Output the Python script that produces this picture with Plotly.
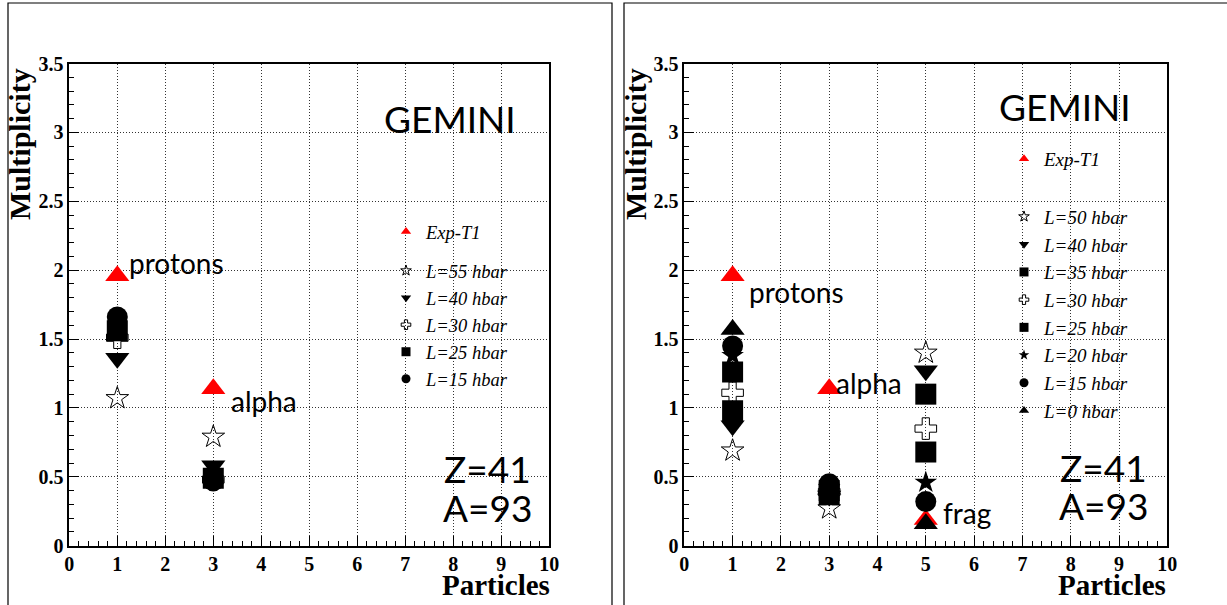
import plotly.graph_objects as go

# ---------------- data ----------------
left_particles = [1, 3]                       # protons, alpha
left_exp = [1.96, 1.14]
left_L55 = [1.07, 0.79]
left_L40 = [1.36, 0.58]
left_L30 = [1.51, 0.48]
left_L25 = [1.56, 0.49]
left_L15 = [1.66, 0.47]

right_particles = [1, 3, 5]                   # protons, alpha, frag
right_exp = [1.96, 1.14, 0.19]
right_L50 = [0.69, 0.27, 1.40]
right_L40 = [0.87, 0.36, 1.27]
right_L35 = [0.98, 0.37, 1.10]
right_L30 = [1.11, 0.39, 0.85]
right_L25 = [1.26, 0.40, 0.68]
right_L20 = [1.38, 0.42, 0.46]
right_L15 = [1.45, 0.45, 0.32]
right_L0 = [1.57, 0.41, 0.16]

x_ticks = list(range(0, 11))
y_ticks = [0, 0.5, 1, 1.5, 2, 2.5, 3, 3.5]
y_tick_labels = ["0", "0.5", "1", "1.5", "2", "2.5", "3", "3.5"]

W, H = 1227, 605

fig = go.Figure()

SIZES = {"triangle-up": 21, "triangle-down": 21, "square": 21, "circle": 21,
         "star-open": 17, "cross-open": 18, "star": 17}
LEG_SIZES = {"triangle-up": 9, "triangle-down": 9, "square": 9, "circle": 9,
             "star-open": 8, "cross-open": 8, "star": 8}

def add(xs, ys, name, symbol, color, xa, ya, legend, group, lw=0):
    # data markers
    fig.add_trace(go.Scatter(
        x=xs, y=ys, mode="markers", name=name, showlegend=False,
        marker=dict(symbol=symbol, size=SIZES[symbol], color=color,
                    line=dict(color=color, width=lw)),
        xaxis=xa, yaxis=ya,
    ))
    # legend entry (no data points, only a small legend symbol)
    fig.add_trace(go.Scatter(
        x=[None], y=[None], mode="markers", name=name, showlegend=True,
        marker=dict(symbol=symbol, size=LEG_SIZES[symbol], color=color,
                    line=dict(color=color, width=lw)),
        xaxis=xa, yaxis=ya, legend=legend, legendgroup=group,
    ))

RED = "#ff0000"
BLK = "#000000"

# left panel
add(left_particles, left_exp, "Exp-T1", "triangle-up", RED, "x", "y", "legend", "exp")
add(left_particles, left_L55, "L=55 hbar", "star-open", BLK, "x", "y", "legend", "L", lw=1)
add(left_particles, left_L40, "L=40 hbar", "triangle-down", BLK, "x", "y", "legend", "L")
add(left_particles, left_L30, "L=30 hbar", "cross-open", BLK, "x", "y", "legend", "L", lw=1)
add(left_particles, left_L25, "L=25 hbar", "square", BLK, "x", "y", "legend", "L")
add(left_particles, left_L15, "L=15 hbar", "circle", BLK, "x", "y", "legend", "L")

# right panel
add(right_particles, right_exp, "Exp-T1", "triangle-up", RED, "x2", "y2", "legend2", "exp2")
add(right_particles, right_L50, "L=50 hbar", "star-open", BLK, "x2", "y2", "legend2", "L2", lw=1)
add(right_particles, right_L40, "L=40 hbar", "triangle-down", BLK, "x2", "y2", "legend2", "L2")
add(right_particles, right_L35, "L=35 hbar", "square", BLK, "x2", "y2", "legend2", "L2")
add(right_particles, right_L30, "L=30 hbar", "cross-open", BLK, "x2", "y2", "legend2", "L2", lw=1)
add(right_particles, right_L25, "L=25 hbar", "square", BLK, "x2", "y2", "legend2", "L2")
add(right_particles, right_L20, "L=20 hbar", "star", BLK, "x2", "y2", "legend2", "L2")
add(right_particles, right_L15, "L=15 hbar", "circle", BLK, "x2", "y2", "legend2", "L2")
add(right_particles, right_L0, "L=0 hbar", "triangle-up", BLK, "x2", "y2", "legend2", "L2")

tickfont = dict(family="Liberation Serif", size=20, color="black", weight="bold")
GRID = dict(showgrid=True, gridcolor="#333333", griddash="1px,2px", gridwidth=1)

def xaxis(domain, anchor):
    return dict(domain=domain, anchor=anchor, range=[0, 10], tickvals=x_ticks,
                showline=True, linecolor="black", linewidth=1.5, mirror=True,
                ticks="inside", ticklen=10, tickcolor="black",
                minor=dict(dtick=0.2, ticks="inside", ticklen=5, tickcolor="black", showgrid=False),
                zeroline=False, tickfont=tickfont, fixedrange=True, automargin=False, **GRID)

def yaxis(anchor):
    ydom = [(H - 545.7) / H, (H - 63.5) / H]
    return dict(domain=ydom, anchor=anchor, range=[0, 3.5], tickvals=y_ticks,
                ticktext=y_tick_labels,
                showline=True, linecolor="black", linewidth=1.5, mirror=True,
                ticks="inside", ticklen=10, tickcolor="black",
                minor=dict(dtick=0.1, ticks="inside", ticklen=5, tickcolor="black", showgrid=False),
                zeroline=False, tickfont=tickfont, fixedrange=True, automargin=False, **GRID)

fig.update_layout(
    width=W, height=H,
    margin=dict(l=0, r=0, t=0, b=0, pad=0, autoexpand=False),
    paper_bgcolor="white", plot_bgcolor="white",
    xaxis=xaxis([69.3 / W, 549.3 / W], "y"),
    yaxis=yaxis("x"),
    xaxis2=xaxis([684.3 / W, 1167.3 / W], "y2"),
    yaxis2=yaxis("x2"),
    legend=dict(x=386 / W, y=(H - 213) / H, xanchor="left", yanchor="top",
                bgcolor="rgba(0,0,0,0)", borderwidth=0,
                font=dict(family="Liberation Serif", size=18.5, color="black", style="italic"),
                itemsizing="trace", tracegroupgap=12, traceorder="grouped"),
    legend2=dict(x=1004 / W, y=(H - 140) / H, xanchor="left", yanchor="top",
                 bgcolor="rgba(0,0,0,0)", borderwidth=0,
                 font=dict(family="Liberation Serif", size=19, color="black", style="italic"),
                 itemsizing="trace", tracegroupgap=30, traceorder="grouped"),
    showlegend=True,
)

# panel frames
frame = dict(type="rect", xref="paper", yref="paper", line=dict(color="black", width=1.2),
             fillcolor="rgba(0,0,0,0)", layer="below")
fig.add_shape(x0=8 / W, x1=612 / W, y0=-0.2, y1=(H - 3) / H, **frame)
fig.add_shape(x0=624 / W, x1=1.2, y0=-0.2, y1=(H - 3) / H, **frame)

label_font = dict(family="Lato", size=28, color="black")
big_font = dict(family="Lato", size=37, color="black")
title_font_y = dict(family="Liberation Serif", size=30, color="black", weight="bold")
title_font_x = dict(family="Liberation Serif", size=29, color="black", weight="bold")

def ann(text, x, y, xref, yref, font, xanchor="left", yanchor="middle", angle=0):
    fig.add_annotation(text=text, x=x, y=y, xref=xref, yref=yref, showarrow=False,
                       font=font, xanchor=xanchor, yanchor=yanchor, textangle=angle)

# left panel texts
ann("protons", 1.2, 2.05, "x", "y", label_font)
ann("alpha", 3.32, 1.05, "x", "y", label_font)
ann("GEMINI", 7.93, 3.10, "x", "y", big_font, xanchor="center")
ann("Z=41", 8.72, 0.56, "x", "y", big_font, xanchor="center")
ann("A=93", 8.72, 0.28, "x", "y", big_font, xanchor="center")
# right panel texts
ann("protons", 1.3, 1.84, "x2", "y2", label_font)
ann("alpha", 3.1, 1.18, "x2", "y2", label_font)
ann("frag", 5.32, 0.24, "x2", "y2", label_font)
ann("GEMINI", 7.88, 3.19, "x2", "y2", big_font, xanchor="center")
ann("Z=41", 8.67, 0.57, "x2", "y2", big_font, xanchor="center")
ann("A=93", 8.67, 0.29, "x2", "y2", big_font, xanchor="center")

# axis titles
ann("Multiplicity", 19 / W, (H - 66) / H, "paper", "paper", title_font_y, xanchor="center", yanchor="top", angle=-90)
ann("Multiplicity", 635 / W, (H - 66) / H, "paper", "paper", title_font_y, xanchor="center", yanchor="top", angle=-90)
ann("Particles", 552 / W, (H - 585) / H, "paper", "paper", title_font_x, xanchor="right", yanchor="middle")
ann("Particles", 1168 / W, (H - 585) / H, "paper", "paper", title_font_x, xanchor="right", yanchor="middle")

# remove the page's default body margin so the figure sits at the window origin
fig.write_html("out.html", config={"displayModeBar": False},
               post_script="document.body.style.margin='0';document.body.style.overflow='hidden';")
